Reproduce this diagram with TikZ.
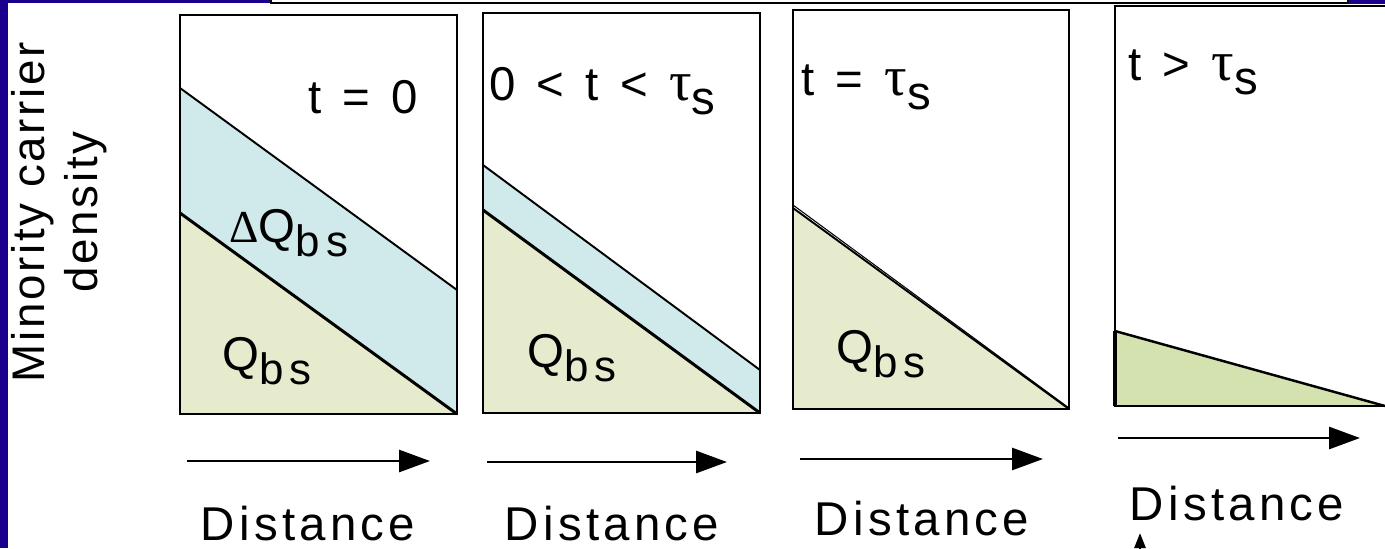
\documentclass[tikz,border=0pt]{standalone}
\usepackage{fontspec}
\setmainfont{Liberation Sans}[LetterSpace=9]
\newfontfamily\titlefont{Liberation Sans}[LetterSpace=17]
\newfontfamily\axisfont{Liberation Sans}[LetterSpace=6]
\newfontfamily\symfont{Liberation Serif}
\usetikzlibrary{arrows.meta}

\definecolor{frameblue}{RGB}{26,0,140}
\definecolor{qgreen}{RGB}{230,235,205}
\definecolor{dqblue}{RGB}{208,233,234}
\definecolor{qgreendark}{RGB}{212,226,176}

\newcommand{\dn}[1]{\raisebox{-0.3em}{#1}}
\newcommand{\Qbs}{Q\dn{\fontsize{25}{25}\selectfont\addfontfeature{LetterSpace=14}bs}}
\newcommand{\taus}{{\symfont\fontsize{32}{32}\selectfont τ}\dn{s}}

\begin{document}
\begin{tikzpicture}[x=0.02cm,y=-0.02cm,
    panel/.style={line width=1.4pt},
    slope/.style={line width=1.7pt},
    lbl/.style={inner sep=0pt,font=\fontsize{27}{32}\selectfont},
    ttl/.style={lbl,anchor=base west,font=\titlefont\fontsize{27}{32}\selectfont},
    distarrow/.style={line width=1.6pt,-{Triangle[length=0.62cm,width=0.44cm]}}]
    \useasboundingbox (0,0) rectangle (1385,548);
    \clip (0,0) rectangle (1385,548);
    % frame of the slide
    \fill[frameblue] (0,0) rectangle (8,548);
    \fill[frameblue] (0,0) rectangle (271,3);
    \fill[frameblue] (1348,0) rectangle (1385,4);
    \draw[fill=white,line width=0.6pt] (271,-5) rectangle (1348,3);
    \node[inner sep=0pt,rotate=90,align=center,font=\axisfont\fontsize{26}{30}\selectfont] (ylab) at (59,212) {Minority carrier\\density};
    % t = 0
    \fill[dqblue] (180,88) -- (457,290) -- (457,414) -- (180,213) -- cycle;
    \fill[qgreen] (180,213) -- (457,414) -- (180,414) -- cycle;
    \draw[line width=1.1pt] (180,88) -- (457,290);
    \draw[slope] (180,213) -- (457,414);
    \draw[panel] (180,15) rectangle (457,414);
    \node[ttl] (t1) at (308,113) {t = 0};
    \node[lbl,anchor=base west] (dq1) at (229,242) {{\symfont\fontsize{26}{26}\selectfont Δ}\Qbs};
    \node[lbl,anchor=base west] (q1) at (222,370) {\Qbs};
    % 0 < t < tau_s
    \fill[dqblue] (483,165) -- (760,370) -- (760,413) -- (483,210) -- cycle;
    \fill[qgreen] (483,210) -- (760,413) -- (483,413) -- cycle;
    \draw[line width=1.1pt] (483,165) -- (760,370);
    \draw[slope] (483,210) -- (760,413);
    \draw[panel] (483,13) rectangle (760,413);
    \node[ttl] (t2) at (489,100) {0 < t < \taus};
    \node[lbl,anchor=base west] (q2) at (527,367) {\Qbs};
    % t = tau_s
    \fill[qgreen] (793,208) -- (1069,409) -- (793,409) -- cycle;
    \draw[line width=0.6pt] (793,205) -- (1069,408);
    \draw[line width=1.1pt] (793,208) -- (1069,409);
    \draw[panel] (793,10) rectangle (1069,409);
    \node[ttl] (t3) at (801,95) {t = \taus};
    \node[lbl,anchor=base west] (q3) at (836,363) {\Qbs};
    % t > tau_s
    \fill[qgreendark] (1115,331) -- (1385,406) -- (1115,406) -- cycle;
    \draw[line width=1.4pt] (1115,331) -- (1385,406);
    \draw[panel] (1395,6) -- (1115,6) -- (1115,406) -- (1395,406);
    \draw[line width=2pt] (1115,331) -- (1115,406);
    \node[ttl] (t4) at (1128,80) {t > \taus};
    % distance axes
    \coordinate (a1s) at (187,461); \coordinate (a1e) at (430,461);
    \coordinate (a2s) at (487,462); \coordinate (a2e) at (727,462);
    \coordinate (a3s) at (800,459); \coordinate (a3e) at (1043,459);
    \coordinate (a4s) at (1118,438); \coordinate (a4e) at (1360,438);
    \draw[distarrow] (a1s) -- (a1e);
    \draw[distarrow] (a2s) -- (a2e);
    \draw[distarrow] (a3s) -- (a3e);
    \draw[distarrow] (a4s) -- (a4e);
    \node[lbl,anchor=base] (d1) at (308,540) {Distance};
    \node[lbl,anchor=base] (d2) at (612,540) {Distance};
    \node[lbl,anchor=base] (d3) at (922,535) {Distance};
    \node[lbl,anchor=base] (d4) at (1237,520) {Distance};
    % pointer at the bottom
    \coordinate (ptr) at (1140,533);
    \draw[line width=1.5pt,-{Triangle[length=0.3cm,width=0.22cm]}] (1140,600) -- (ptr);
\end{tikzpicture}
\end{document}
